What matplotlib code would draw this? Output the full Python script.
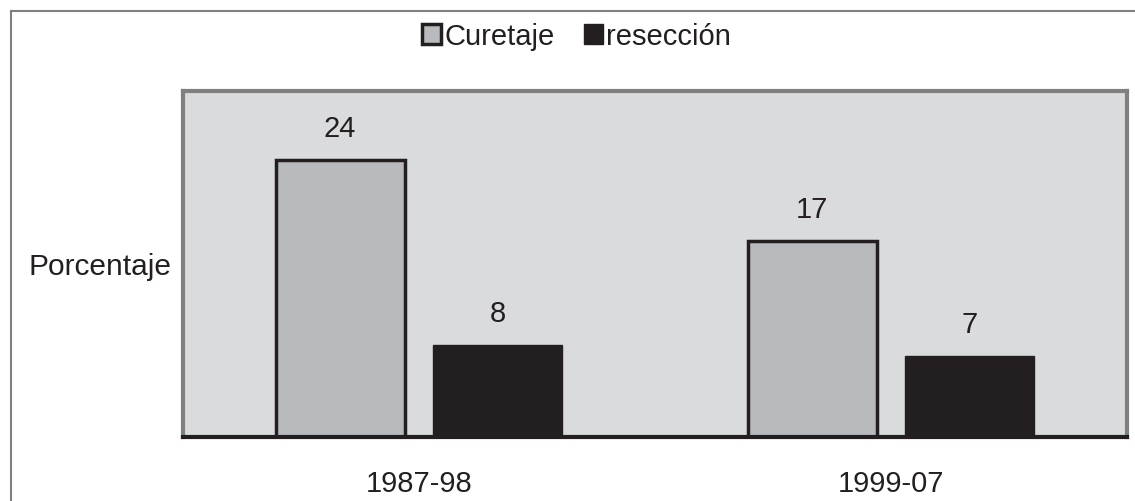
import matplotlib.pyplot as plt
import numpy as np
from matplotlib.lines import Line2D
from matplotlib.patches import Patch

plt.rcParams['font.family'] = ['Liberation Sans', 'DejaVu Sans']

periods = ['1987-98', '1999-07']
curetaje = [24, 17]
reseccion = [8, 7]
series_names = ['Curetaje', 'resección']

ink = '#231f20'
light = '#b9babd'
panel = '#dadbdd'
frame = '#808080'

fig = plt.figure(figsize=(11.35, 5.02), dpi=100)
ax = fig.add_axes([0.1612, 0.1275, 0.8318, 0.6892])
ax.set_facecolor(panel)

x = np.arange(len(periods))
w = 0.273
off = 0.167
b1 = ax.bar(x - off, curetaje, w, color=light, edgecolor=ink, linewidth=2.5, zorder=3)
b2 = ax.bar(x + off, reseccion, w, color=ink, edgecolor=ink, linewidth=1, zorder=3)

# value labels above each bar
for bars, vals in ((b1, curetaje), (b2, reseccion)):
    for r, v in zip(bars, vals):
        ax.annotate(str(v), (r.get_x() + r.get_width() / 2, v),
                    xytext=(0, 13), textcoords='offset points',
                    ha='center', va='bottom', fontsize=21, color=ink)

ax.set_xlim(-0.5, 1.5)
ax.set_ylim(0, 30)
ax.set_yticks([])
ax.set_xticks(x)
ax.set_xticklabels(periods, fontsize=21, color=ink)
ax.tick_params(axis='x', length=0, pad=23)

for side in ('left', 'right', 'top'):
    ax.spines[side].set_color(frame)
    ax.spines[side].set_linewidth(3)
ax.spines['bottom'].set_color(ink)
ax.spines['bottom'].set_linewidth(3)
ax.spines['bottom'].set_zorder(4)

fig.text(0.1515, 0.468, 'Porcentaje', ha='right', va='center', fontsize=21.5, color=ink)

handles = [Patch(facecolor=light, edgecolor=ink, linewidth=2.5),
           Patch(facecolor=ink, edgecolor=ink)]
fig.legend(handles, series_names, loc='center', bbox_to_anchor=(0.508, 0.926),
           ncol=2, frameon=False, fontsize=21, handlelength=0.65, handleheight=0.65,
           handletextpad=0.12, columnspacing=1.0, borderpad=0, labelcolor=ink)

# outer frame lines (left and top)
fig.add_artist(Line2D([11 / 1135, 11 / 1135], [0, 1 - 12 / 502],
                      color=frame, linewidth=1.5, transform=fig.transFigure))
fig.add_artist(Line2D([11 / 1135, 1], [1 - 12 / 502, 1 - 12 / 502],
                      color=frame, linewidth=1.5, transform=fig.transFigure))

fig.savefig('out.png', dpi=100)
